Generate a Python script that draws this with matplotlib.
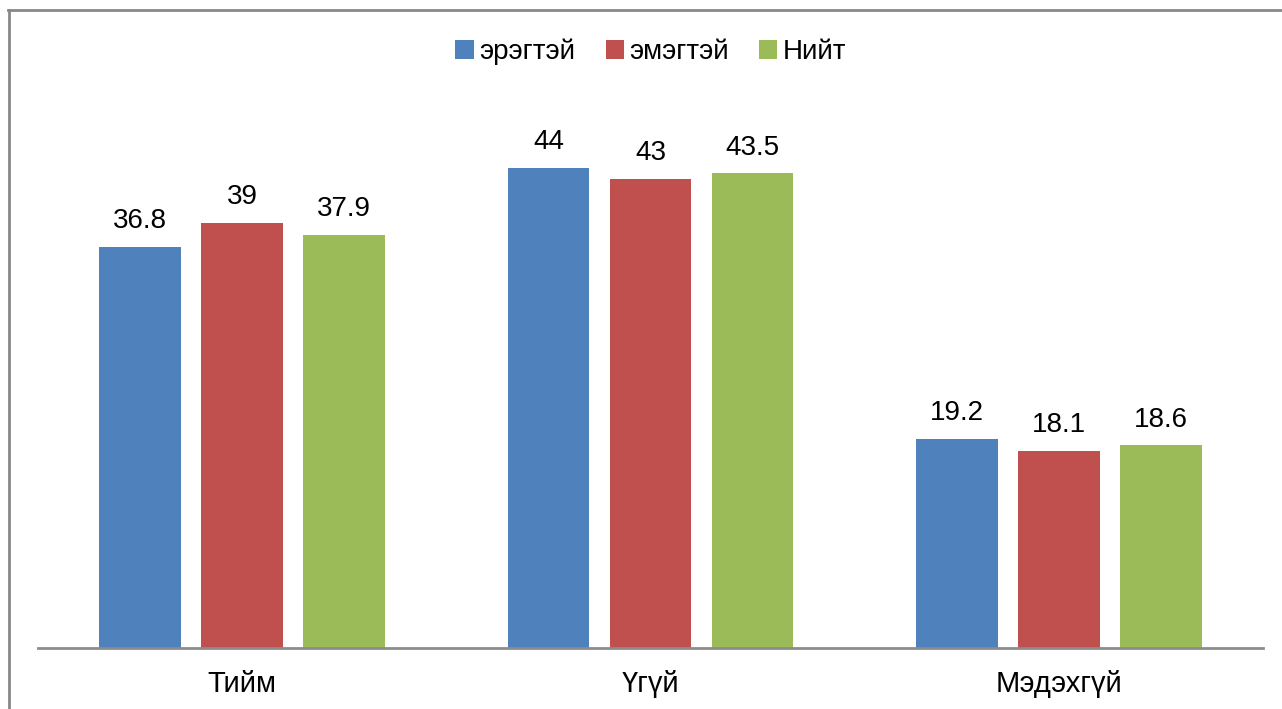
import matplotlib.pyplot as plt
import numpy as np
from matplotlib.lines import Line2D

plt.rcParams["font.family"] = ["Liberation Sans", "DejaVu Sans"]

categories = ["Тийм", "Үгүй", "Мэдэхгүй"]
series_names = ["эрэгтэй", "эмэгтэй", "Нийт"]
male = [36.8, 44, 19.2]
female = [39, 43, 18.1]
total = [37.9, 43.5, 18.6]
colors = ["#4F81BD", "#C0504D", "#9BBB59"]

W, H = 1282, 709
fig = plt.figure(figsize=(W / 100, H / 100), dpi=100)
ax = fig.add_axes([38 / W, (H - 648) / H, (1263 - 38) / W, (648 - 102.5) / H])

x = np.arange(len(categories))
width = 0.2
offsets = [-0.25, 0, 0.25]
handles = []
for vals, name, color, off in zip([male, female, total], series_names, colors, offsets):
    bars = ax.bar(x + off, vals, width, color=color, label=name, zorder=2)
    handles.append(bars)
    for xi, v in zip(x + off, vals):
        ax.annotate(f"{v:g}", (xi, v), xytext=(0, 9), textcoords="offset points",
                    ha="center", va="bottom", fontsize=20)

ax.set_xlim(-0.5, 2.5)
ax.set_ylim(0, 50)
ax.set_xticks(x)
ax.set_xticklabels(categories, fontsize=21)
ax.tick_params(axis="x", length=0, pad=16)
ax.set_yticks([])
for side in ["top", "right", "left"]:
    ax.spines[side].set_visible(False)
ax.spines["bottom"].set_color("#8C8C8C")
ax.spines["bottom"].set_linewidth(2)

fig.legend(handles=handles, loc="center", bbox_to_anchor=(651 / W, 1 - 52 / H), ncol=3,
           frameon=False, fontsize=20, handlelength=0.65, handleheight=0.65,
           handletextpad=0.2, columnspacing=1.1)

# outer chart border (only top and left edges visible)
fig.add_artist(Line2D([8 / W, 1], [1 - 10 / H, 1 - 10 / H], transform=fig.transFigure,
                      color="#888888", linewidth=2))
fig.add_artist(Line2D([9 / W, 9 / W], [0, 1 - 10 / H], transform=fig.transFigure,
                      color="#888888", linewidth=2))

fig.savefig("out.png", dpi=100)
